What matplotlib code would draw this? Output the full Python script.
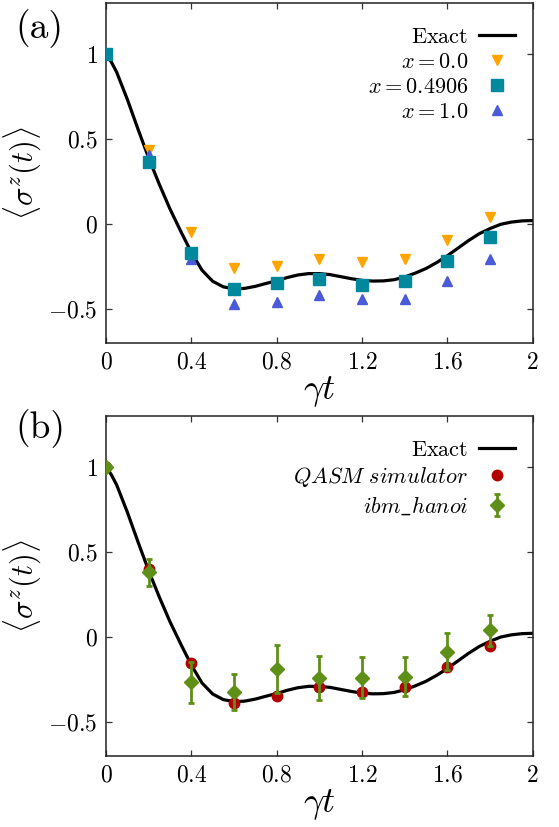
import matplotlib
matplotlib.use("Agg")
import matplotlib.pyplot as plt
from matplotlib.ticker import FuncFormatter

plt.rcParams['mathtext.fontset'] = 'cm'
plt.rcParams['font.family'] = 'serif'
plt.rcParams['font.serif'] = ['cmr10', 'DejaVu Serif']
plt.rcParams['axes.unicode_minus'] = False

# exact curve
t_exact = [0.0, 0.025, 0.05, 0.1, 0.15, 0.2, 0.25, 0.3, 0.35, 0.4, 0.45,
           0.5, 0.55, 0.6, 0.65, 0.7, 0.75, 0.8, 0.85, 0.9, 0.95,
           1.0, 1.05, 1.1, 1.15, 1.2, 1.25, 1.3, 1.35, 1.4, 1.45,
           1.5, 1.55, 1.6, 1.65, 1.7, 1.75, 1.8, 1.85, 1.9, 1.95, 2.0]
sz_exact = [1.0, 0.955, 0.895, 0.735, 0.56, 0.39, 0.235, 0.09, -0.04, -0.165, -0.27,
            -0.335, -0.368, -0.38, -0.377, -0.365, -0.348, -0.332, -0.313, -0.298, -0.29,
            -0.29, -0.296, -0.308, -0.32, -0.33, -0.334, -0.333, -0.326, -0.31, -0.287,
            -0.26, -0.225, -0.185, -0.14, -0.095, -0.055, -0.025, 0.0, 0.013, 0.02, 0.022]

# panel (a)
t_pts = [0.0, 0.2, 0.4, 0.6, 0.8, 1.0, 1.2, 1.4, 1.6, 1.8]
x00 = [1.0, 0.437, -0.047, -0.255, -0.245, -0.206, -0.224, -0.206, -0.092, 0.045]
x049 = [1.0, 0.368, -0.167, -0.38, -0.343, -0.32, -0.357, -0.332, -0.214, -0.073]
x10 = [1.0, 0.41, -0.206, -0.47, -0.46, -0.416, -0.44, -0.44, -0.335, -0.206]

# panel (b)
qasm = [1.0, 0.40, -0.153, -0.388, -0.349, -0.294, -0.322, -0.294, -0.175, -0.055]
hanoi = [1.0, 0.38, -0.267, -0.324, -0.188, -0.241, -0.239, -0.233, -0.086, 0.039]
hanoi_err = [0.0, 0.08, 0.12, 0.106, 0.14, 0.13, 0.12, 0.113, 0.107, 0.093]

xticks = [0, 0.4, 0.8, 1.2, 1.6, 2]
yticks = [-0.5, 0, 0.5, 1]

fig = plt.figure(figsize=(5.59, 8.27), dpi=100)
ax1 = fig.add_axes([0.1896, 0.5849, 0.7634, 0.4111])
ax2 = fig.add_axes([0.1896, 0.0858, 0.7634, 0.4111])

fmt = FuncFormatter(lambda v, p: r'$%g$' % v)

for ax in (ax1, ax2):
    ax.plot(t_exact, sz_exact, color='black', lw=2.3, label=r'$\mathrm{Exact}$', zorder=2)
    ax.set_xlim(0, 2)
    ax.set_ylim(-0.7, 1.3)
    ax.set_xticks(xticks)
    ax.set_yticks(yticks)
    ax.xaxis.set_major_formatter(fmt)
    ax.yaxis.set_major_formatter(fmt)
    ax.tick_params(direction='in', top=True, right=True, length=4, width=0.9,
                   labelsize=17, pad=6, colors='#333333', labelcolor='black')
    for s in ax.spines.values():
        s.set_linewidth(1.1)
        s.set_color('#222222')
    ax.set_xlabel(r'$\gamma t$', fontsize=26, labelpad=0)
    ax.set_ylabel(r'$\langle \sigma^z(t) \rangle$', fontsize=22, labelpad=4)

ax1.plot(t_pts, x00, linestyle='none', marker='v', color='#FFA500', ms=7,
         label=r'$x = 0.0$', zorder=3)
ax1.plot(t_pts, x10, linestyle='none', marker='^', color='#4A5AD8', ms=7,
         label=r'$x = 1.0$', zorder=3)
ax1.plot(t_pts, x049, linestyle='none', marker='s', color='#00899C', ms=8,
         label=r'$x = 0.4906$', zorder=4)
h, l = ax1.get_legend_handles_labels()
ax1.legend([h[0], h[1], h[3], h[2]], [l[0], l[1], l[3], l[2]], loc='upper right',
           bbox_to_anchor=(1.0, 0.982), frameon=False, markerfirst=False, fontsize=16,
           handlelength=1.6, labelspacing=0.25, borderaxespad=0.4, handletextpad=0.5)

ax2.plot(t_pts, qasm, linestyle='none', marker='o', color='#B30000', ms=7.5,
         label=r'$\mathit{QASM\ simulator}$', zorder=3)
ax2.errorbar(t_pts, hanoi, yerr=hanoi_err, linestyle='none', marker='D',
             color='#5E8F16', ms=7.5, elinewidth=2, capsize=2.2, capthick=2,
             label=r'$\mathit{ibm\_hanoi}$', zorder=4)
ax2.legend(loc='upper right', bbox_to_anchor=(1.0, 0.982), frameon=False,
           markerfirst=False, fontsize=16, handlelength=1.6, labelspacing=0.25,
           borderaxespad=0.4, handletextpad=0.5)

fig.text(0.027, 0.966, '(a)', fontsize=27, va='center')
fig.text(0.027, 0.482, '(b)', fontsize=27, va='center')

fig.savefig('out.png', dpi=100)
